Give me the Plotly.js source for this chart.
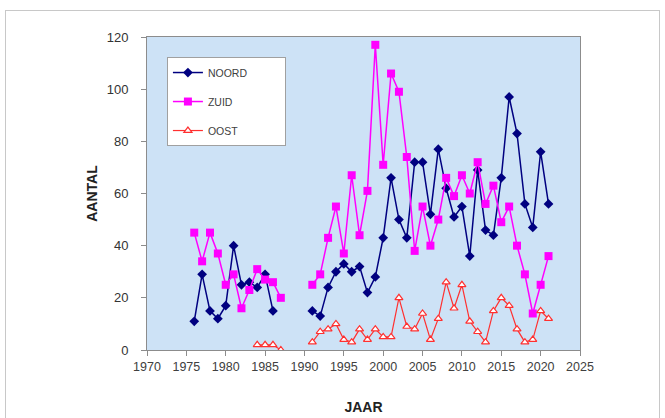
<!DOCTYPE html>
<html>
<head>
<meta charset="utf-8">
<script src="https://cdn.plot.ly/plotly-3.0.1.min.js"></script>
<style>
html,body{margin:0;padding:0;background:#fff;}
#frame{position:absolute;left:5px;top:10px;width:655px;height:420px;border:1px solid #c8c8c8;box-sizing:border-box;}
#chart{position:absolute;left:0;top:0;width:665px;height:418px;}
</style>
</head>
<body>
<div id="frame"></div>
<div id="chart"></div>
<script>
const years = [1976,1977,1978,1979,1980,1981,1982,1983,1984,1985,1986,1987,1988,1989,1990,
  1991,1992,1993,1994,1995,1996,1997,1998,1999,2000,2001,2002,2003,2004,2005,2006,2007,2008,
  2009,2010,2011,2012,2013,2014,2015,2016,2017,2018,2019,2020,2021];
const noord = [11,29,15,12,17,40,25,26,24,29,15,null,null,null,null,
  15,13,24,30,33,30,32,22,28,43,66,50,43,72,72,52,77,62,51,55,36,69,46,44,66,97,83,56,47,76,56];
const zuid = [45,34,45,37,25,29,16,23,31,27,26,20,null,null,null,
  25,29,43,55,37,67,44,61,117,71,106,99,74,38,55,40,50,66,59,67,60,72,56,63,49,55,40,29,14,25,36];
const oost = [null,null,null,null,null,null,null,null,2,2,2,0,null,null,null,
  3,7,8,10,4,3,8,4,8,5,5,20,9,8,14,4,12,26,16,25,11,7,3,15,20,17,8,3,4,15,12];
const xTicks = [1970,1975,1980,1985,1990,1995,2000,2005,2010,2015,2020,2025];
const yTicks = [0,20,40,60,80,100,120];

const pad = '\u00a0'.repeat(11);
const traces = [
  {x: years, y: noord, name: 'NOORD' + pad, mode: 'lines+markers', legendgroup: 'a',
   line: {color: '#000080', width: 1.5}, marker: {symbol: 'diamond', size: 7.5, color: '#000080'}},
  {x: years, y: zuid, name: 'ZUID' + pad, mode: 'lines+markers', legendgroup: 'b',
   line: {color: '#ff00ff', width: 1.5}, marker: {symbol: 'square', size: 8, color: '#ff00ff'}},
  {x: years, y: oost, name: 'OOST' + pad, mode: 'lines+markers', legendgroup: 'c',
   line: {color: '#ff3030', width: 1.2},
   marker: {symbol: 'triangle-up', size: 7, color: '#ffffff', line: {color: '#ff3030', width: 1.2}}}
];
const layout = {
  width: 665, height: 418,
  margin: {l: 147, r: 85, t: 37, b: 68, pad: 0},
  paper_bgcolor: 'rgba(0,0,0,0)',
  plot_bgcolor: '#cde2f6',
  font: {family: 'Liberation Sans, Arial, sans-serif', color: '#333333', size: 12},
  showlegend: true,
  legend: {x: 0.046, y: 0.936, xanchor: 'left', yanchor: 'top',
    bgcolor: '#ffffff', bordercolor: '#a0a0a0', borderwidth: 1,
    font: {size: 10.5, color: '#404040'}, tracegroupgap: 10, itemwidth: 30},
  xaxis: {range: [1970, 2025], tickvals: xTicks, ticktext: xTicks.map(String),
    showgrid: false, zeroline: false, showline: true, linecolor: '#8c8c8c', mirror: true,
    ticks: 'outside', ticklen: 5, tickcolor: '#8c8c8c',
    tickfont: {size: 12.5, color: '#404040'},
    title: {text: '<b>JAAR</b>', font: {size: 14, color: '#222'}, standoff: 29}},
  yaxis: {range: [0, 120], tickvals: yTicks, ticktext: yTicks.map(String),
    showgrid: false, zeroline: false, showline: true, linecolor: '#8c8c8c', mirror: true,
    ticks: 'outside', ticklen: 5, tickcolor: '#8c8c8c', ticklabelstandoff: 10,
    tickfont: {size: 13, color: '#333333'},
    title: {text: '<b>AANTAL</b>', font: {size: 14, color: '#222'}, standoff: 5}}
};
Plotly.newPlot('chart', traces, layout, {displayModeBar: false, staticPlot: true});
</script>
</body>
</html>
